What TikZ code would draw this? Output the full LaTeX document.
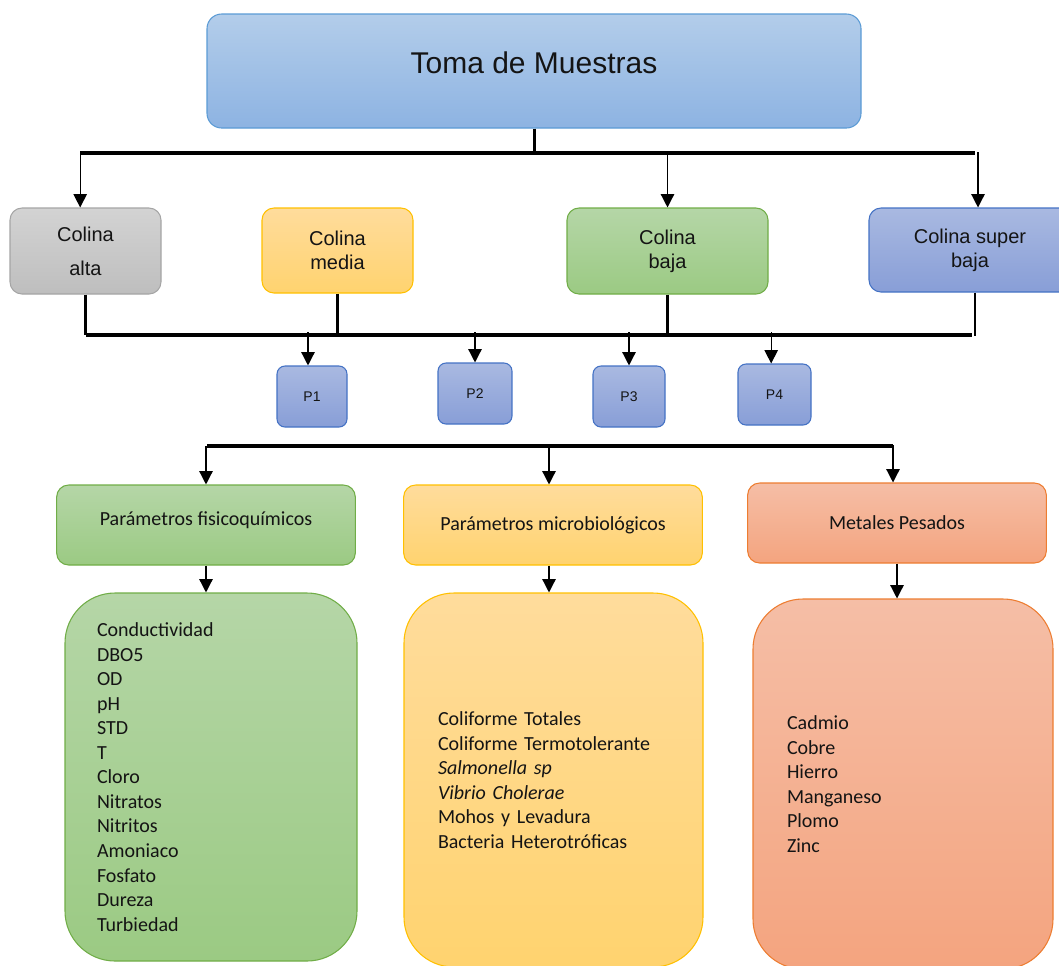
\documentclass[tikz,border=0pt]{standalone}
\usepackage{fontspec}
\setmainfont{Liberation Sans}
\newfontfamily\calib{Carlito}
\usetikzlibrary{arrows.meta}
\definecolor{tTop}{HTML}{B3CDEA}\definecolor{tBot}{HTML}{8DB3E2}\definecolor{tBrd}{HTML}{5B9BD5}
\definecolor{gyTop}{HTML}{D3D3D3}\definecolor{gyBot}{HTML}{BEBEBE}\definecolor{gyBrd}{HTML}{A5A5A5}
\definecolor{yTop}{HTML}{FFDC9C}\definecolor{yBot}{HTML}{FFD36F}\definecolor{yBrd}{HTML}{FFC000}
\definecolor{gTop}{HTML}{B5D6A7}\definecolor{gBot}{HTML}{9BCA83}\definecolor{gBrd}{HTML}{70AD47}
\definecolor{bTop}{HTML}{A9B9E1}\definecolor{bBot}{HTML}{889ED7}\definecolor{bBrd}{HTML}{4472C4}
\definecolor{oTop}{HTML}{F5BEA6}\definecolor{oBot}{HTML}{F4A47F}\definecolor{oBrd}{HTML}{ED7D31}
\definecolor{txt}{HTML}{141414}
\begin{document}
\begin{tikzpicture}[x=0.75pt,y=-0.75pt,
  box/.style={draw, line width=0.8pt, align=center, inner sep=0pt, text=txt},
  tboxs/.style={box, top color=tTop, bottom color=tBot, draw=tBrd},
  gyboxs/.style={box, top color=gyTop, bottom color=gyBot, draw=gyBrd},
  yboxs/.style={box, top color=yTop, bottom color=yBot, draw=yBrd},
  gboxs/.style={box, top color=gTop, bottom color=gBot, draw=gBrd},
  bboxs/.style={box, top color=bTop, bottom color=bBot, draw=bBrd},
  oboxs/.style={box, top color=oTop, bottom color=oBot, draw=oBrd},
  colina/.style={rounded corners=9pt, font=\fontsize{15}{18}\selectfont},
  pbox/.style={bboxs, rounded corners=6pt, minimum height=45.75pt, font=\fontsize{10.5}{12}\selectfont},
  head/.style={rounded corners=9pt, minimum width=224pt, minimum height=60pt, font=\calib\fontsize{15}{18}\selectfont},
  listbox/.style={rounded corners=37.5pt, align=left, inner ysep=0pt, font=\calib\fontsize{15}{18.4}\selectfont},
  arr/.style={line width=1pt, -{Triangle[width=10pt,length=10pt]}},
  barline/.style={line width=3pt},
  conn/.style={line width=2pt}
]
\clip (0,0) rectangle (1059,965);
% title
\node[tboxs, rounded corners=11pt, minimum width=490.5pt, minimum height=85.5pt,
      font=\fontsize{22.5}{27}\selectfont, text depth=12pt] (title) at (534,71) {Toma de Muestras};
% colinas
\node[gyboxs, colina, minimum width=113.25pt, minimum height=64.5pt] (alta) at (85.5,251) {Colina\\[7.5pt]alta};
\node[yboxs, colina, minimum width=113.25pt, minimum height=63.75pt] (media) at (337.5,250.5) {Colina\\media};
\node[gboxs, colina, minimum width=150.75pt, minimum height=64.5pt] (baja) at (667.5,251) {Colina\\baja};
\node[bboxs, colina, minimum width=151.5pt, minimum height=63pt] (sbaja) at (970,250) {Colina super\\baja};
% P boxes
\node[pbox, minimum width=52.5pt] (p1) at (312,396.5) {P1};
\node[pbox, minimum width=55.5pt] (p2) at (475,393.5) {P2};
\node[pbox, minimum width=54pt] (p3) at (629,396.5) {P3};
\node[pbox, minimum width=54.75pt] (p4) at (774.5,394.5) {P4};
% headers
\node[gboxs, head, text depth=10pt] (fisico) at (206,525) {Parámetros fisicoquímicos};
\node[yboxs, head] (micro) at (553,525) {Parámetros microbiológicos};
\node[oboxs, head] (metales) at (897,523) {Metales Pesados};
% lists
\node[gboxs, listbox, minimum width=219pt, minimum height=276pt, inner xsep=24pt, text width=171pt] (lfis) at (211,777)
 {Conductividad\\DBO5\\OD\\pH\\STD\\T\\Cloro\\Nitratos\\Nitritos\\Amoniaco\\Fosfato\\Dureza\\Turbiedad};
\node[yboxs, listbox, minimum width=224.25pt, minimum height=280.5pt, inner xsep=25.5pt, text width=173.25pt] (lmic) at (553.5,780)
 {Coliforme Totales\\Coliforme Termotolerante\\\textit{Salmonella sp}\\\textit{Vibrio Cholerae}\\Mohos y Levadura\\Bacteria Heterotróficas};
\node[oboxs, listbox, minimum width=225pt, minimum height=277.5pt, inner xsep=25.5pt, text width=174pt] (lmet) at (903,784)
 {Cadmio\\Cobre\\Hierro\\Manganeso\\Plomo\\Zinc};
% bars
\coordinate (b1l) at (80,153); \coordinate (b1r) at (975,153);
\coordinate (b2l) at (86,335); \coordinate (b2r) at (972,335);
\coordinate (b3l) at (207,446); \coordinate (b3r) at (893,446);
% level 1
\draw[line width=2.25pt] (title.south) -- (title.south |- b1l);
\draw[barline] (b1l) -- (b1r);
\draw[arr] ([xshift=-4pt]alta.north) ++(0,-55) -- ([xshift=-4pt]alta.north);
\draw[arr] (baja.north |- b1l) -- (baja.north);
\draw[arr] ([xshift=6pt]sbaja.north) ++(0,-55) -- ([xshift=6pt]sbaja.north);
% level 2
\draw[conn] (alta.south) -- (alta.south |- b2l);
\draw[conn] (media.south) -- (media.south |- b2l);
\draw[conn] (baja.south) -- (baja.south |- b2l);
\draw[conn] ([xshift=3.75pt]sbaja.south) -- ++(0,43);
\draw[barline] (b2l) -- (b2r);
\draw[arr] ([xshift=-3pt]p1.north) ++(0,-33) -- ([xshift=-3pt]p1.north);
\draw[arr] (p2.north) ++(0,-30) -- (p2.north);
\draw[arr] (p3.north) ++(0,-33) -- (p3.north);
\draw[arr] ([xshift=-2.5pt]p4.north) ++(0,-31) -- ([xshift=-2.5pt]p4.north);
% level 3
\draw[line width=2.6pt] (b3l) -- (b3r);
\draw[arr] (fisico.north |- b3l) -- (fisico.north);
\draw[arr] ([xshift=-3pt]micro.north) ++(0,-39) -- ([xshift=-3pt]micro.north);
\draw[arr] ([xshift=-3pt]metales.north) ++(0,-37) -- ([xshift=-3pt]metales.north);
% level 4
\draw[arr] (fisico.south) -- (fisico.south |- lfis.north);
\draw[arr] ([xshift=-3pt]micro.south) -- ([xshift=-3pt]micro.south |- lmic.north);
\draw[arr] (metales.south) -- (metales.south |- lmet.north);
\end{tikzpicture}
\end{document}
